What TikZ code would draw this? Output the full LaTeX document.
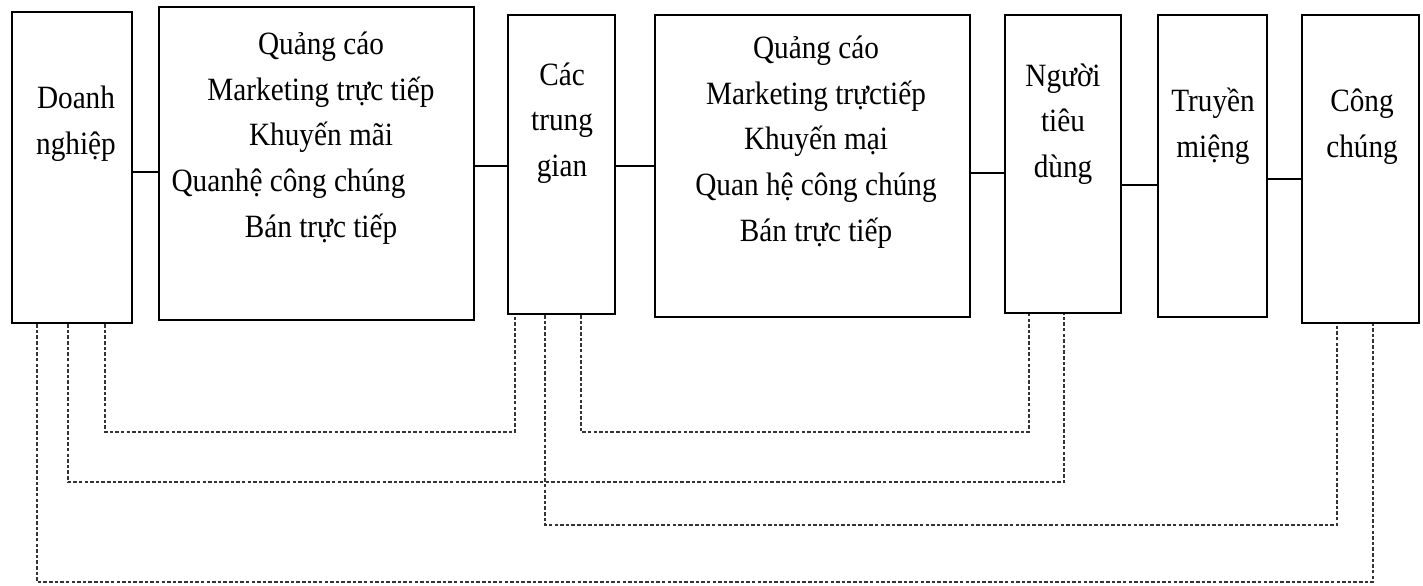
\documentclass[tikz,border=0pt]{standalone}
\usepackage{fontspec}
\setmainfont{Liberation Serif}[FakeStretch=0.9]
\begin{document}
\begin{tikzpicture}[x=0.02cm,y=-0.02cm,
  box/.style={draw=black,line width=1.4pt,inner sep=0pt},
  txt/.style={align=center,inner sep=0pt,font=\fontsize{18.5}{26}\selectfont},
  conn/.style={draw=black,line width=1.4pt},
  dsh/.style={draw=black!80,line width=0.7pt,dash pattern=on 2pt off 1.2pt}]
\useasboundingbox (0,0) rectangle (1423,585);
% boxes
\node[box,minimum width=120*0.02cm,minimum height=311*0.02cm] (b1) at (72,167.5) {};
\node[box,minimum width=315*0.02cm,minimum height=313*0.02cm] (b2) at (316.5,163.5) {};
\node[box,minimum width=107*0.02cm,minimum height=299*0.02cm] (b3) at (561.5,164.5) {};
\node[box,minimum width=315*0.02cm,minimum height=302*0.02cm] (b4) at (812.5,166) {};
\node[box,minimum width=116*0.02cm,minimum height=298*0.02cm] (b5) at (1063,164) {};
\node[box,minimum width=109*0.02cm,minimum height=302*0.02cm] (b6) at (1212.5,166) {};
\node[box,minimum width=117*0.02cm,minimum height=308*0.02cm] (b7) at (1360.5,169) {};
% texts
\node[txt] (t1) at (76,124) {Doanh\\nghiệp};
\node[txt] (t2) at (321,138) {Quảng cáo\\Marketing trực tiếp\\Khuyến mãi\\Quanhệ công chúng\rule{1.3cm}{0pt}\\Bán trực tiếp};
\node[txt] (t3) at (562,123) {Các\\trung\\gian};
\node[txt] (t4) at (816,142) {Quảng cáo\\Marketing trựctiếp\\Khuyến mại\\Quan hệ công chúng\\Bán trực tiếp};
\node[txt] (t5) at (1063,124) {Người\\tiêu\\dùng};
\node[txt] (t6) at (1213,126) {Truyền\\miệng};
\node[txt] (t7) at (1362,127) {Công\\chúng};
% solid connectors
\coordinate (c12) at (0,172);
\coordinate (c23) at (0,166);
\coordinate (c34) at (0,166);
\coordinate (c45) at (0,173);
\coordinate (c56) at (0,185);
\coordinate (c67) at (0,179);
\draw[conn] (b1.east |- c12) -- (b2.west |- c12);
\draw[conn] (b2.east |- c23) -- (b3.west |- c23);
\draw[conn] (b3.east |- c34) -- (b4.west |- c34);
\draw[conn] (b4.east |- c45) -- (b5.west |- c45);
\draw[conn] (b5.east |- c56) -- (b6.west |- c56);
\draw[conn] (b6.east |- c67) -- (b7.west |- c67);
% dashed connectors
\coordinate (a1) at (105,432); \coordinate (a2) at (515,432);
\coordinate (d1) at (581,432); \coordinate (d2) at (1029,432);
\coordinate (e1) at (68,482);  \coordinate (e2) at (1064,482);
\coordinate (f1) at (545,525); \coordinate (f2) at (1337,525);
\coordinate (g1) at (37,582);  \coordinate (g2) at (1373,582);
\draw[dsh] (b1.south -| a1) -- (a1) -- (a2) -- (b3.south -| a2);
\draw[dsh] (b3.south -| d1) -- (d1) -- (d2) -- (b5.south -| d2);
\draw[dsh] (b1.south -| e1) -- (e1) -- (e2) -- (b5.south -| e2);
\draw[dsh] (b3.south -| f1) -- (f1) -- (f2) -- (b7.south -| f2);
\draw[dsh] (b1.south -| g1) -- (g1) -- (g2) -- (b7.south -| g2);
\end{tikzpicture}
\end{document}
